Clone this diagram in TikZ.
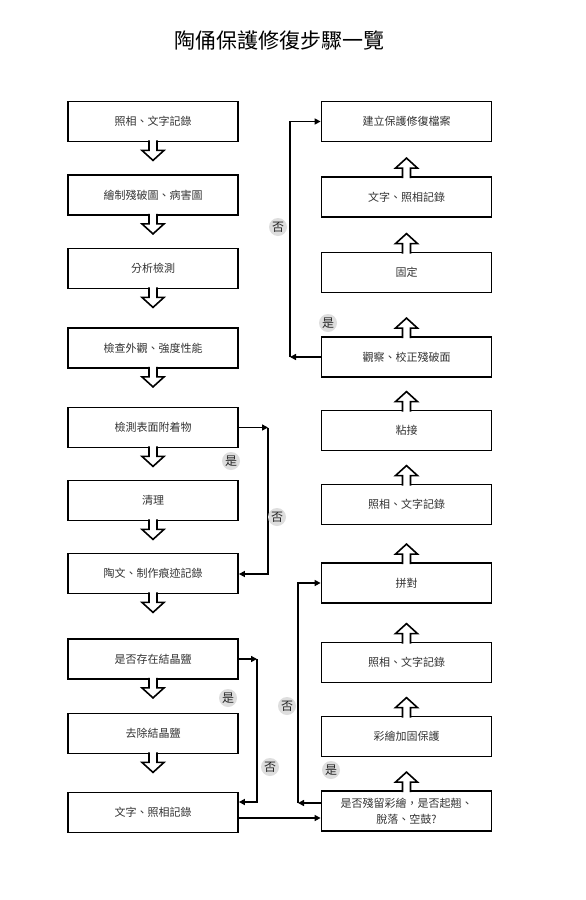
\documentclass[tikz,border=0pt]{standalone}
\usepackage{fontspec}
\setmainfont{Noto Sans CJK TC}
\usetikzlibrary{arrows.meta}
\begin{document}
\begin{tikzpicture}[x=1pt,y=-1pt,
  box/.style={draw,line width=1.8pt,fill=white,minimum width=170pt,minimum height=40pt,inner sep=0pt,align=center,font=\fontsize{11}{16}\selectfont,text=black!80},
  lbl/.style={circle,fill=black!13,inner sep=0pt,minimum size=18pt,font=\fontsize{12}{12}\selectfont,text=black!85},
  conn/.style={line width=1.6pt},
  tip/.style={-{Triangle[length=6pt,width=6pt]}},
  hdown/.pic={\path[fill=white,draw,line width=1.6pt,line join=miter] (-4,-2) -- (-4,8) -- (-11,8) -- (0,18) -- (11,8) -- (4,8) -- (4,-2);},
  hup/.pic={\path[fill=white,draw,line width=1.6pt,line join=miter] (-4,2) -- (-4,-8) -- (-11,-8) -- (0,-18) -- (11,-8) -- (4,-8) -- (4,2);}
]
\useasboundingbox[fill=white] (0,0) rectangle (586,900);
\node[font=\fontsize{21}{21}\selectfont] (title) at (279,40) {陶俑保護修復步驟一覽};
% left column
\node[box] (b1) at (153,121.5) {照相、文字記錄};
\node[box] (b2) at (153,195) {繪制殘破圖、病害圖};
\node[box] (b3) at (153,268.5) {分析檢測};
\node[box] (b4) at (153,348) {檢查外觀、強度性能};
\node[box] (b5) at (153,427.5) {檢測表面附着物};
\node[box] (b6) at (153,500.5) {清理};
\node[box] (b7) at (153,573.5) {陶文、制作痕迹記錄};
\node[box] (b8) at (153,659) {是否存在結晶鹽};
\node[box] (b9) at (153,733.5) {去除結晶鹽};
\node[box] (b10) at (153,812.5) {文字、照相記錄};
% right column
\node[box] (r10) at (406.5,121.5) {建立保護修復檔案};
\node[box] (r9) at (406.5,197) {文字、照相記錄};
\node[box] (r8) at (406.5,272.5) {固定};
\node[box] (r7) at (406.5,357) {觀察、校正殘破面};
\node[box] (r6) at (406.5,430.5) {粘接};
\node[box] (r5) at (406.5,504.5) {照相、文字記錄};
\node[box] (r4) at (406.5,583) {拼對};
\node[box] (r3) at (406.5,662.5) {照相、文字記錄};
\node[box] (r2) at (406.5,736.5) {彩繪加固保護};
\node[box] (r1) at (406.5,811) {是否殘留彩繪，是否起翹、\\脫落、空鼓?};
% hollow arrows
\foreach \n in {b1,b2,b3,b4,b5,b6,b7,b8,b9} \pic at (\n.south) {hdown};
\foreach \n in {r1,r2,r3,r4,r5,r6,r7,r8,r9} \pic at (\n.north) {hup};
% connectors
\coordinate (k1) at (268,427.5);
\coordinate (k2) at (268,574);
\draw[conn,tip] (b5.east) -- (k1);
\draw[conn,tip] (k1) -- (k2) -- (b7.east |- k2);
\coordinate (m1) at (257,659);
\coordinate (m2) at (257,802);
\draw[conn,tip] (b8.east) -- (m1);
\draw[conn,tip] (m1) -- (m2) -- (b10.east |- m2);
\coordinate (n1) at (280,818);
\draw[conn,tip] (b10.east |- n1) -- (r1.west |- n1);
\coordinate (p1) at (298,803);
\coordinate (p2) at (298,583);
\draw[conn,tip] (r1.west |- p1) -- (p1);
\draw[conn,tip] (p1) -- (p2) -- (r4.west);
\coordinate (q1) at (290,357);
\coordinate (q2) at (290,121.5);
\draw[conn,tip] (r7.west) -- (q1);
\draw[conn,tip] (q1) -- (q2) -- (r10.west);
% labels
\node[lbl] (l1) at (231,461) {是};
\node[lbl] (l2) at (277,517) {否};
\node[lbl] (l3) at (228,698) {是};
\node[lbl] (l4) at (270,767) {否};
\node[lbl] (l5) at (287,706) {否};
\node[lbl] (l6) at (331,770) {是};
\node[lbl] (l7) at (278,227) {否};
\node[lbl] (l8) at (328,323) {是};
\end{tikzpicture}
\end{document}
